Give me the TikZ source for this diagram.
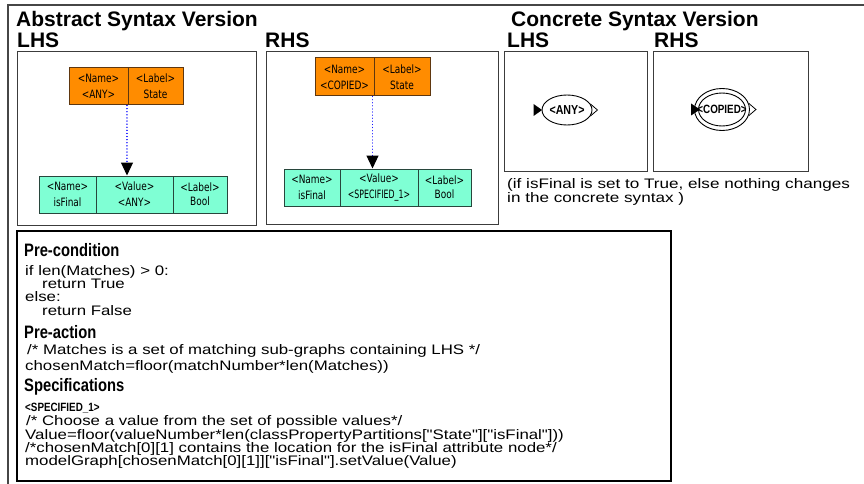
\documentclass[tikz,border=0pt]{standalone}
\usepackage{fontspec}
\setmainfont{Liberation Sans}
\newfontfamily\codefont[FakeStretch=1.22]{Liberation Sans}
\newfontfamily\capfont[FakeStretch=1.24]{Liberation Sans}
\newfontfamily\headfont[FakeStretch=0.82]{Liberation Sans}
\newfontfamily\boxfont[FakeStretch=0.78]{DejaVu Sans}
\newfontfamily\boxfontnarrow[FakeStretch=0.68]{DejaVu Sans}
\usetikzlibrary{shapes.geometric,arrows.meta}
\definecolor{orangefill}{RGB}{255,140,0}
\definecolor{orangeline}{RGB}{95,55,15}
\definecolor{tealfill}{RGB}{127,255,212}
\definecolor{tealline}{RGB}{40,70,60}
\definecolor{panelline}{RGB}{60,60,60}
\definecolor{framecol}{RGB}{70,70,70}
\definecolor{dotblue}{RGB}{20,20,255}
\begin{document}
\begin{tikzpicture}[x=1pt,y=-1pt,
  title/.style={inner sep=0pt,anchor=base west,font=\fontsize{21}{21}\selectfont\bfseries},
  panel/.style={draw=panelline,line width=1pt,inner sep=0pt},
  cellbase/.style={inner sep=0pt,line width=1pt,align=center,minimum height=37pt,
     font=\boxfont\fontsize{11.5}{16}\selectfont},
  ocell/.style={cellbase,draw=orangeline,fill=orangefill},
  tcell/.style={cellbase,draw=tealline,fill=tealfill},
  dotarrow/.style={draw=dotblue,line width=1.2pt,line cap=round,dash pattern=on 0.1pt off 3pt,
     -{Triangle[width=12pt,length=13pt,color=black,fill=black]}},
  stateell/.style={ellipse,draw=black,line width=0.9pt,inner sep=0pt},
  elltext/.style={inner sep=0pt,font=\headfont\bfseries\fontsize{12}{12}\selectfont},
  codeline/.style={inner sep=0pt,anchor=base west,font=\codefont\fontsize{13.8}{14}\selectfont},
  headline/.style={inner sep=0pt,anchor=base west,font=\headfont\bfseries\fontsize{18}{18}\selectfont},
  capline/.style={inner sep=0pt,anchor=base west,font=\capfont\fontsize{13.8}{14}\selectfont}
]
\useasboundingbox (0,0) rectangle (864,484);
\fill[white] (0,0) rectangle (864,484);
% outer frame
\draw[framecol,line width=1.2pt] (8,490) -- (8,5) -- (870,5);

% titles
\node[title] (tabs) at (16,27) {Abstract Syntax Version};
\node[title] (tlhs) at (17,48) {LHS};
\node[title] (trhs) at (265,48) {RHS};
\node[title] (tcon) at (511,27) {Concrete Syntax Version};
\node[title] (tclhs) at (507,48) {LHS};
\node[title] (tcrhs) at (654,48) {RHS};

% panels
\node[panel,minimum width=239pt,minimum height=173pt] (absL) at (136.5,138.5) {};
\node[panel,minimum width=232pt,minimum height=172pt] (absR) at (382,138) {};
\node[panel,minimum width=143pt,minimum height=119pt] (conL) at (575.5,111.5) {};
\node[panel,minimum width=155pt,minimum height=119pt] (conR) at (730.5,111.5) {};
\node[draw=black,line width=1.4pt,inner sep=0pt,minimum width=654pt,minimum height=250pt] (spec) at (344,356) {};

% LHS abstract
\node[ocell,minimum width=59pt] (lon) at (98.5,86.5) {<Name>\\<ANY>};
\node[ocell,minimum width=55pt] (lol) at (155.5,86.5) {<Label>\\State};
\node[tcell,minimum width=57pt] (ltn) at (67.5,194.5) {<Name>\\isFinal};
\node[tcell,minimum width=77pt] (ltv) at (134.5,194.5) {<Value>\\<ANY>};
\node[tcell,minimum width=54pt] (ltl) at (200,194.5) {\raisebox{-2pt}{<Label>}\\Bool};
\draw[dotarrow] ([xshift=-1.5pt]lon.south east) -- ([xshift=-1.5pt]lon.south east |- ltv.north);

% RHS abstract
\node[ocell,minimum width=59pt,minimum height=38pt] (ron) at (344.5,77) {<Name>\\<COPIED>};
\node[ocell,minimum width=56pt,minimum height=38pt] (rol) at (402,77) {<Label>\\State};
\node[tcell,minimum width=56pt] (rtn) at (312,187.5) {<Name>\\isFinal};
\node[tcell,minimum width=78pt] (rtv) at (379,187.5) {<Value>\\{\boxfontnarrow <SPECIFIED\_1>}};
\node[tcell,minimum width=53pt] (rtl) at (444.5,187.5) {\raisebox{-2pt}{<Label>}\\Bool};
\draw[dotarrow] ([xshift=-2pt]ron.south east) -- ([xshift=-2pt]ron.south east |- rtv.north);

% concrete LHS
\node[stateell,minimum width=50pt,minimum height=30pt] (cle) at (567,110) {};
\node[elltext,font=\headfont\bfseries\fontsize{13}{13}\selectfont] (clt) at (cle.center) {<ANY>};
\fill[black] ([xshift=0.5pt]cle.west) -- ++(-8.5,-6) -- ++(0,12) -- cycle;
\draw[line width=0.8pt] ([xshift=-2pt,yshift=6pt]cle.east) -- ([xshift=5pt]cle.east) -- ([xshift=-2pt,yshift=-6pt]cle.east);

% concrete RHS
\node[stateell,minimum width=47pt,minimum height=33pt] (cre) at (722,109.5) {};
\node[stateell,minimum width=55pt,minimum height=42pt] (creo) at (cre.center) {};
\node[elltext] (crt) at (cre.center) {<COPIED>};
\fill[black] ([xshift=2pt]cre.west) -- ++(-9,-6) -- ++(0,12) -- cycle;
\draw[line width=0.8pt] ([xshift=-1pt,yshift=6pt]creo.east) -- ([xshift=6pt]creo.east) -- ([xshift=-1pt,yshift=-6pt]creo.east);

% caption
\node[capline] (cap1) at (507,188) {(if isFinal is set to True, else nothing changes};
\node[capline] (cap2) at (507,202) {in the concrete syntax )};

% specification text
\node[headline] (hpre) at (24,256) {Pre-condition};
\node[codeline] (c1) at (25,275) {if len(Matches) > 0:};
\node[codeline] (c2) at (42,288) {return True};
\node[codeline] (c3) at (25,301) {else:};
\node[codeline] (c4) at (42,315) {return False};
\node[headline] (hact) at (24,338) {Pre-action};
\node[codeline] (c5) at (27,354) {/* Matches is a set of matching sub-graphs containing LHS */};
\node[codeline] (c6) at (25,370) {chosenMatch=floor(matchNumber*len(Matches))};
\node[headline] (hspec) at (24,391) {Specifications};
\node[inner sep=0pt,anchor=base west,font=\headfont\bfseries\fontsize{12}{12}\selectfont] (sp1) at (25,411) {<SPECIFIED\_1>};
\node[codeline] (c7) at (26,425) {/* Choose a value from the set of possible values*/};
\node[codeline] (c8) at (25,439) {Value=floor(valueNumber*len(classPropertyPartitions["State"]["isFinal"]))};
\node[codeline] (c9) at (25,452) {/*chosenMatch[0][1] contains the location for the isFinal attribute node*/};
\node[codeline] (c10) at (25,465) {modelGraph[chosenMatch[0][1]]["isFinal"].setValue(Value)};
\end{tikzpicture}
\end{document}
